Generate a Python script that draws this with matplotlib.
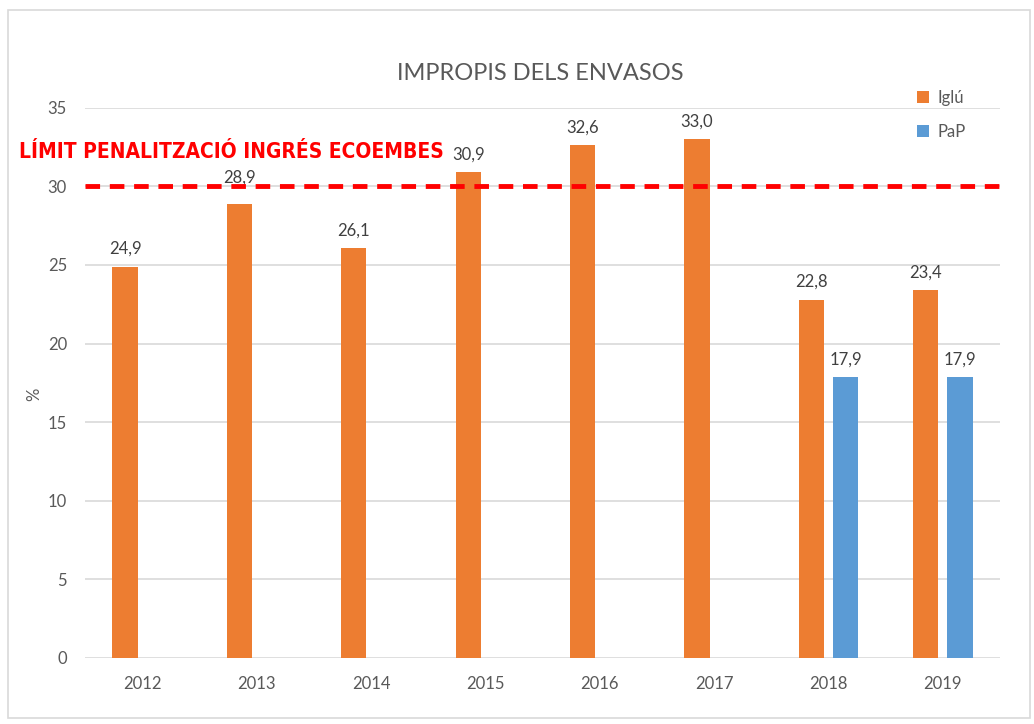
import matplotlib.pyplot as plt
import numpy as np
from matplotlib.patches import Rectangle

years = ['2012', '2013', '2014', '2015', '2016', '2017', '2018', '2019']
iglu = [24.9, 28.9, 26.1, 30.9, 32.6, 33.0, 22.8, 23.4]
pap = [np.nan, np.nan, np.nan, np.nan, np.nan, np.nan, 17.9, 17.9]
limit = 30

orange = '#ED7D31'
blue = '#5B9BD5'
gray = '#595959'

plt.rcParams['font.family'] = ['Lato', 'DejaVu Sans']

fig = plt.figure(figsize=(10.34, 7.24), dpi=100)
ax = fig.add_axes([0.0822, 0.0912, 0.885, 0.760])

x = np.arange(len(years))
w = 0.22
off = 0.15
ax.bar(x - off, iglu, w, color=orange, label='Iglú', zorder=3)
ax.bar(x + off, pap, w, color=blue, label='PaP', zorder=3)

for xi, v in zip(x, iglu):
    # label just under the limit gets pushed above the dashed line, as in the original
    dy = 1.15 if limit - 1.5 < v < limit else 0.6
    ax.text(xi - off, v + dy, f'{v:.1f}'.replace('.', ','), ha='center', va='bottom',
            fontsize=12, color='#404040', zorder=3.5)
for xi, v in zip(x, pap):
    if not np.isnan(v):
        ax.text(xi + off, v + 0.6, f'{v:.1f}'.replace('.', ','), ha='center', va='bottom',
                fontsize=12, color='#404040', zorder=3.5)

ax.set_xlim(-0.5, len(years) - 0.5)
ax.set_ylim(0, 35)
ax.set_yticks(range(0, 36, 5))
ax.set_xticks(x)
ax.set_xticklabels(years)
ax.tick_params(length=0, labelsize=12, colors=gray, pad=13)
ax.tick_params(axis='y', pad=13)
ax.grid(axis='y', color='#D9D9D9', linewidth=1.2, zorder=0)
for s in ax.spines.values():
    s.set_visible(False)

ax.plot([-0.5, len(years) - 0.44], [limit, limit], color='#FF0000', linewidth=3.5,
        linestyle=(0, (3, 2)), clip_on=False, zorder=4)
fig.text(0.018, 0.79, 'LÍMIT PENALITZACIÓ INGRÉS ECOEMBES', color='#FF0000',
         fontsize=15, fontweight='bold', family=['DejaVu Sans Condensed', 'DejaVu Sans'],
         fontstretch='condensed', ha='left', va='center')

ax.set_ylabel('%', fontsize=12, color=gray)
ax.yaxis.set_label_coords(-0.047, 0.48)
fig.text(0.523, 0.898, 'IMPROPIS DELS ENVASOS', fontsize=17, color=gray,
         ha='center', va='center')

ax.legend(loc='upper left', bbox_to_anchor=(0.893, 1.06), frameon=False, fontsize=12,
          labelcolor=gray, handlelength=0.7, handleheight=0.7, handletextpad=0.5,
          labelspacing=1.1)

fig.patches.append(Rectangle((0.008, 0.008), 0.988, 0.978, transform=fig.transFigure,
                             fill=False, edgecolor='#D9D9D9', linewidth=1.2))

fig.savefig('out.png', dpi=100)
